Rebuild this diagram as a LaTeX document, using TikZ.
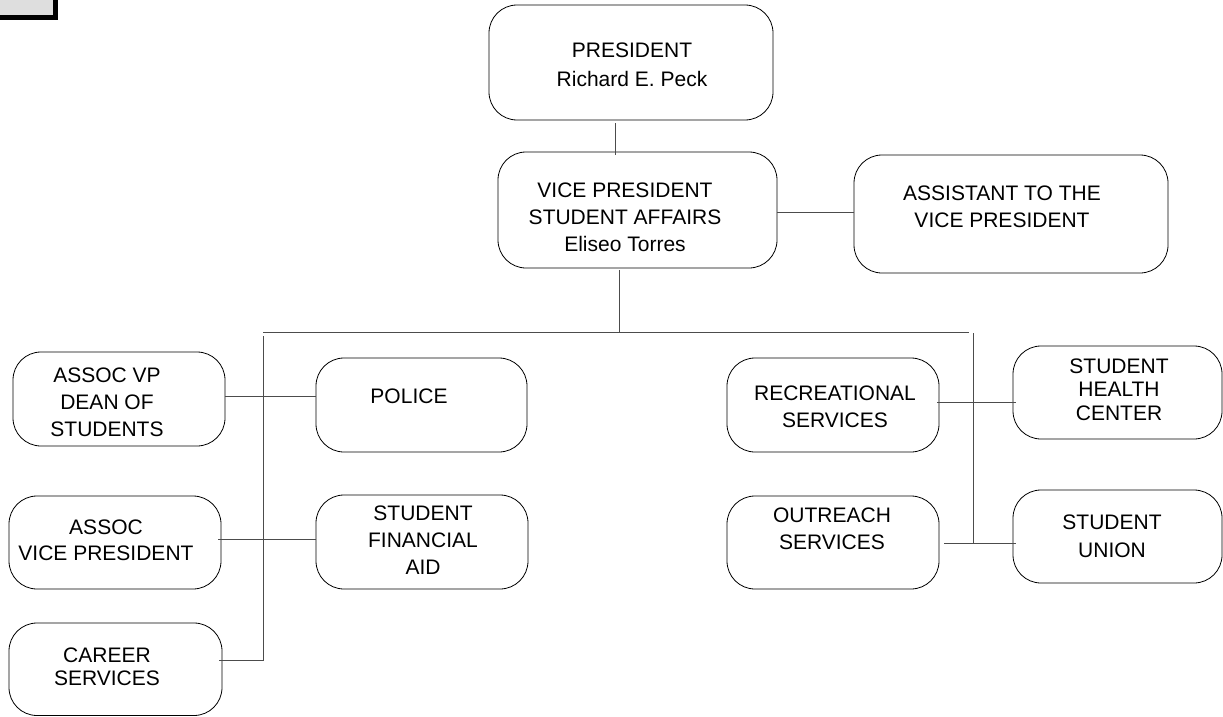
\documentclass[tikz,border=0pt]{standalone}
\usepackage{fontspec}
\setmainfont{Liberation Sans}
\newcommand{\sz}[1]{\fontsize{21}{#1}\selectfont}

\begin{document}
\begin{tikzpicture}[x=1pt,y=-1pt,
  unit/.style={draw, rounded corners=28pt, line width=0.8pt, inner sep=0pt},
  lbl/.style={align=center, inner sep=0pt},
  link/.style={line width=0.9pt, black!70}]
  \useasboundingbox (0,0) rectangle (1223,717);
  \fill (-5,-5) rectangle (58,20);
  \fill[black!13] (-5,-5) rectangle (53,15);
  \node[unit, minimum width=284pt, minimum height=115pt] (pres) at (631,62.5) {};
  \node[lbl, font=\sz{29}] (pres-t) at (632,65) {PRESIDENT\\Richard E. Peck};
  \node[unit, minimum width=279pt, minimum height=116pt] (vp) at (637.5,210) {};
  \node[lbl, font=\sz{27}] (vp-t) at (625,217) {VICE PRESIDENT\\STUDENT AFFAIRS\\Eliseo Torres};
  \node[unit, minimum width=314pt, minimum height=118pt] (asst) at (1011,214) {};
  \node[lbl, font=\sz{27}] (asst-t) at (1002,206.5) {ASSISTANT TO THE\\VICE PRESIDENT};
  \node[unit, minimum width=212pt, minimum height=94pt] (dean) at (119,399) {};
  \node[lbl, font=\sz{27}] (dean-t) at (107,402) {ASSOC VP\\DEAN OF\\STUDENTS};
  \node[unit, minimum width=211pt, minimum height=94pt] (police) at (421.5,405) {};
  \node[lbl, font=\sz{27}] (police-t) at (409,396) {POLICE};
  \node[unit, minimum width=212pt, minimum height=93pt] (avp) at (115,542.5) {};
  \node[lbl, font=\sz{26}] (avp-t) at (106,540) {ASSOC\\VICE PRESIDENT};
  \node[unit, minimum width=212pt, minimum height=94pt] (sfa) at (422,542) {};
  \node[lbl, font=\sz{27}] (sfa-t) at (423,540) {STUDENT\\FINANCIAL\\AID};
  \node[unit, minimum width=213pt, minimum height=92.5pt] (career) at (115.5,669.25) {};
  \node[lbl, font=\sz{23}] (career-t) at (107,666.5) {CAREER\\SERVICES};
  \node[unit, minimum width=212pt, minimum height=94pt] (rec) at (833,405) {};
  \node[lbl, font=\sz{27}] (rec-t) at (835,406.5) {RECREATIONAL\\SERVICES};
  \node[unit, minimum width=209pt, minimum height=93pt] (shc) at (1117.5,392.5) {};
  \node[lbl, font=\sz{23.5}] (shc-t) at (1119,389.5) {STUDENT\\HEALTH\\CENTER};
  \node[unit, minimum width=212pt, minimum height=93pt] (out) at (833,542.5) {};
  \node[lbl, font=\sz{27}] (out-t) at (832,528.5) {OUTREACH\\SERVICES};
  \node[unit, minimum width=209pt, minimum height=93pt] (union) at (1117.5,536.5) {};
  \node[lbl, font=\sz{28}] (union-t) at (1112,536) {STUDENT\\UNION};
  \coordinate (busL) at (263,332);
  \coordinate (busR) at (969,332);
  \coordinate (bus) at (619,332);
  \coordinate (trunkL) at (263.5,660);
  \coordinate (trunkR) at (973,543);
  \draw[link] ([xshift=-16pt]pres.south) ++(0,3) -- ([xshift=-22.5pt,yshift=-3pt]vp.north);
  \draw[link] ([yshift=-2pt]vp.east) -- ([yshift=-2pt]vp.east -| asst.west);
  \draw[link] ([xshift=-18.5pt,yshift=-2pt]vp.south) -- (bus);
  \draw[link] (busL) -- (busR);
  \draw[link] (263.5,336) -- (trunkL);
  \draw[link] (973,333) -- (trunkR);
  \draw[link] ([yshift=3pt]dean.east) -- ([yshift=3pt]dean.east -| police.west);
  \draw[link] ([xshift=-3pt,yshift=3.5pt]avp.east) -- ([yshift=3.5pt]avp.east -| sfa.west);
  \draw[link] ([xshift=-3pt]career.east |- trunkL) -- (trunkL);
  \draw[link] ([xshift=-2pt,yshift=3pt]rec.east) -- ([xshift=3pt,yshift=3pt]rec.east -| shc.west);
  \draw[link] ([xshift=5pt]out.east |- trunkR) -- ([xshift=3pt]union.west |- trunkR);
\end{tikzpicture}
\end{document}
